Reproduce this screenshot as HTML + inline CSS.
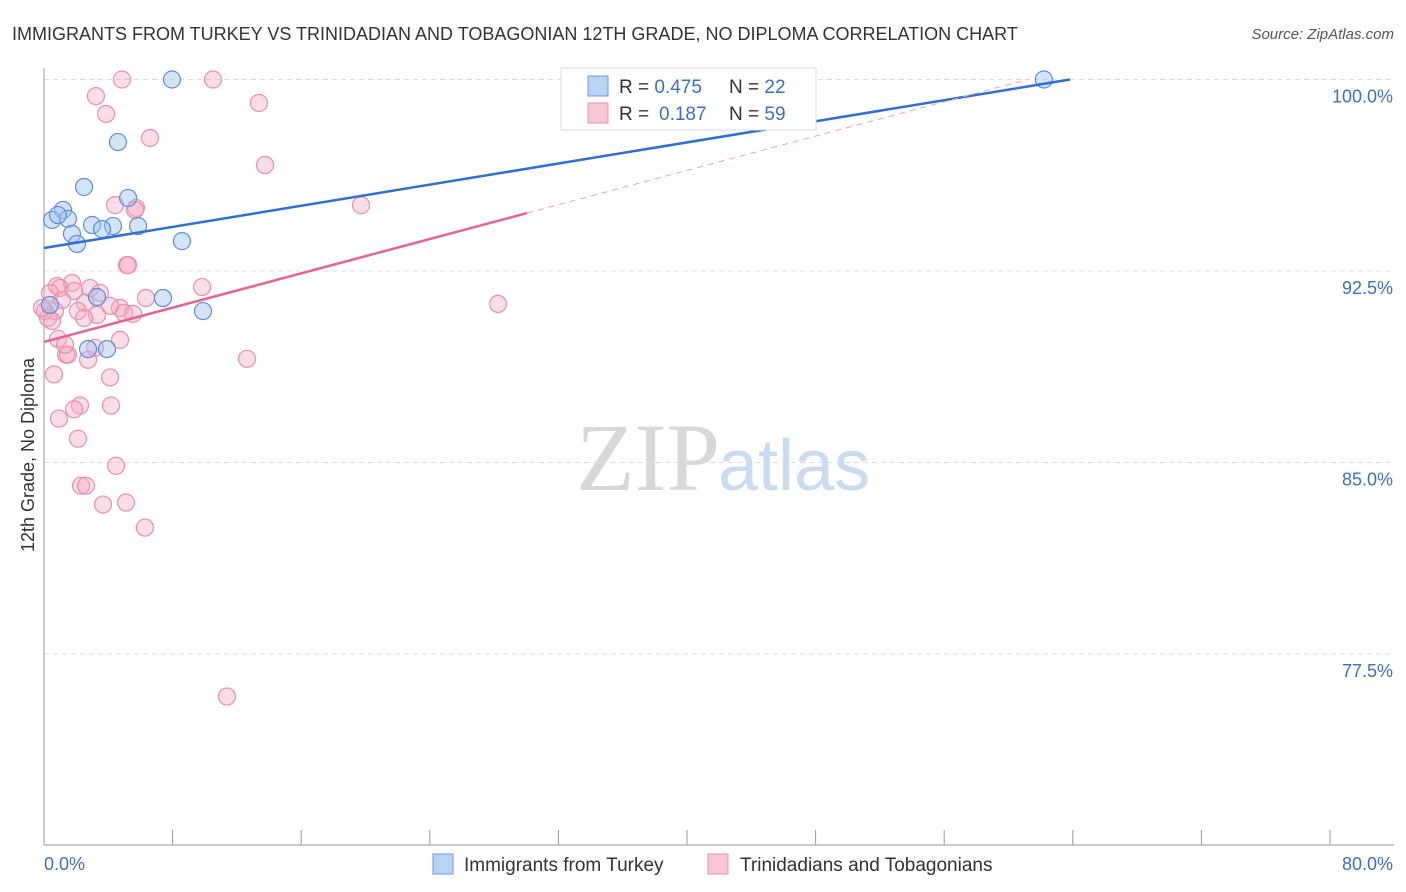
<!DOCTYPE html>
<html><head><meta charset="utf-8">
<style>
body{margin:0;background:#fff;font-family:"Liberation Sans",sans-serif;}
#wrap{position:relative;width:1406px;height:892px;overflow:hidden;}
</style></head>
<body>
<div id="wrap">
<svg id="svg" width="1406" height="892" xmlns="http://www.w3.org/2000/svg">
<text x="12" y="40" font-size="18" fill="#333">IMMIGRANTS FROM TURKEY VS TRINIDADIAN AND TOBAGONIAN 12TH GRADE, NO DIPLOMA CORRELATION CHART</text>
<text x="1394" y="39" font-size="15" fill="#555" font-style="italic" text-anchor="end">Source: ZipAtlas.com</text>
<text x="720" y="490" font-size="96" fill="#d8d8d8" font-family="Liberation Serif" text-anchor="end">ZIP</text>
<text x="718" y="490" font-size="72" fill="#c9dcf2">atlas</text>
<text transform="translate(34,455) rotate(-90)" font-size="18" fill="#333" text-anchor="middle">12th Grade, No Diploma</text>
<g id="grid"></g><g id="axes"></g><g id="pts"></g><g id="lines"></g>
<g>
<rect x="561" y="68" width="255" height="62" fill="#fff" stroke="#ddd"/>
<rect x="588" y="76" width="20" height="20" fill="#b9d3f5" stroke="#6b9be0"/>
<rect x="588" y="103" width="20" height="20" fill="#f9c6d5" stroke="#ec8fab"/>
<text x="619" y="93" font-size="19" fill="#333">R = <tspan fill="#3a6fd0">0.475</tspan><tspan x="729">N = </tspan><tspan fill="#3a6fd0">22</tspan></text>
<text x="619" y="120" font-size="19" fill="#333">R = <tspan fill="#3a6fd0" x="659">0.187</tspan><tspan x="729">N = </tspan><tspan fill="#3a6fd0">59</tspan></text>
</g>
<g>
<rect x="433" y="854" width="20" height="20" fill="#b9d3f5" stroke="#6b9be0"/>
<text x="464" y="871" font-size="19" fill="#333">Immigrants from Turkey</text>
<rect x="708" y="854" width="20" height="20" fill="#f9c6d5" stroke="#ec8fab"/>
<text x="740" y="871" font-size="19" fill="#333">Trinidadians and Tobagonians</text>
</g>
<text x="44" y="870" font-size="18" fill="#3a6fd0">0.0%</text>
<text x="1393" y="870" font-size="18" fill="#3a6fd0" text-anchor="end">80.0%</text>
</svg>
</div>
<script>
const yTicks=[100,92.5,85,77.5];
const yTickLabels=["100.0%","92.5%","85.0%","77.5%"];
const xTicks=[0,8,16,24,32,40,48,56,64,72,80];
const blueX=[7.96,62.2,4.6,2.49,5.23,1.18,0.5,1.49,0.87,2.99,4.29,5.85,3.61,1.74,2.05,8.58,3.3,7.4,9.89,2.74,3.92,0.37];
const blueY=[100,100,97.55,95.79,95.36,94.89,94.5,94.54,94.69,94.3,94.26,94.26,94.14,93.95,93.56,93.67,91.48,91.44,90.93,89.44,89.44,91.17];
const pinkX=[4.85,10.51,3.23,13.37,3.86,6.59,13.75,19.72,4.42,5.72,5.16,5.23,9.83,1.74,28.24,6.34,0.81,0.99,1.87,2.86,0.37,1.12,2.55,4.73,0.68,2.11,0.06,4.11,4.98,5.54,3.3,2.49,0.25,0.5,0.87,4.73,3.17,1.37,1.49,2.74,12.63,0.62,4.11,2.24,1.87,4.17,0.93,2.11,4.48,2.3,2.61,3.67,5.1,6.28,11.38,5.66,1.31,-0.12,3.48];
const pinkY=[100,100,99.35,99.08,98.65,97.71,96.65,95.08,95.08,94.97,92.73,92.73,91.87,92.03,91.21,91.44,91.91,91.83,91.72,91.83,91.64,91.36,91.25,91.05,90.93,90.93,90.93,91.13,90.86,90.82,90.78,90.66,90.66,90.54,89.84,89.8,89.49,89.22,89.22,89.02,89.06,88.45,88.33,87.23,87.08,87.23,86.72,85.93,84.87,84.09,84.09,83.35,83.43,82.45,75.83,94.89,89.61,91.05,91.64];
const blueFit=[93.4,0.1034];   // intercept, slope
const pinkFit=[89.72,0.168];
const ns="http://www.w3.org/2000/svg";
const X=v=>44+v*16.075, Y=v=>79.5+(100-v)*25.53;
function mk(t,a,p){const e=document.createElementNS(ns,t);for(const k in a)e.setAttribute(k,a[k]);p.appendChild(e);return e;}
const grid=document.getElementById('grid'),axes=document.getElementById('axes'),pts=document.getElementById('pts'),lines=document.getElementById('lines');
yTicks.forEach((v,i)=>{
 const l=mk('line',{x1:44,x2:1394,y1:Y(v),y2:Y(v),stroke:'#ddd','stroke-dasharray':'5,4'},grid);
 
 
 const t=mk('text',{x:1393,y:Y(v)+23,'font-size':18,fill:'#3a6fd0','text-anchor':'end'},grid);
 t.textContent=yTickLabels[i];
 
 
});
const ya=mk('line',{x1:44,x2:44,y1:68,y2:845,stroke:'#999'},axes);


const xa=mk('line',{x1:44,x2:1394,y1:845,y2:845,stroke:'#999'},axes);


xTicks.forEach(v=>{
 const t=mk('line',{x1:X(v),x2:X(v),y1:830,y2:845,stroke:'#999'},axes);
 
 
});
pinkX.forEach((v,i)=>{
 const c=mk('circle',{cx:X(v),cy:Y(pinkY[i]),r:8.5,fill:'rgba(246,170,195,0.4)',stroke:'#eb8fab','stroke-width':1.2},pts);
 
 
});
blueX.forEach((v,i)=>{
 const c=mk('circle',{cx:X(v),cy:Y(blueY[i]),r:8.5,fill:'rgba(160,195,240,0.45)',stroke:'#5b8fdc','stroke-width':1.2},pts);
 
 
});
const bEnd=(100-blueFit[0])/blueFit[1];
const bl=mk('line',{x1:X(0),y1:Y(blueFit[0]),x2:X(bEnd),y2:Y(100),stroke:'#2f6fd6','stroke-width':2.5},lines);


const pSolid=30.05, pEnd=(100-pinkFit[0])/pinkFit[1];
const pl=mk('line',{x1:X(0),y1:Y(pinkFit[0]),x2:X(pSolid),y2:Y(pinkFit[0]+pinkFit[1]*pSolid),stroke:'#e8648f','stroke-width':2.5},lines);


const pd=mk('line',{x1:X(pSolid),y1:Y(pinkFit[0]+pinkFit[1]*pSolid),x2:X(pEnd),y2:Y(100),stroke:'#eea0b8','stroke-width':1,'stroke-dasharray':'6,5'},lines);


</script>
</body></html>
